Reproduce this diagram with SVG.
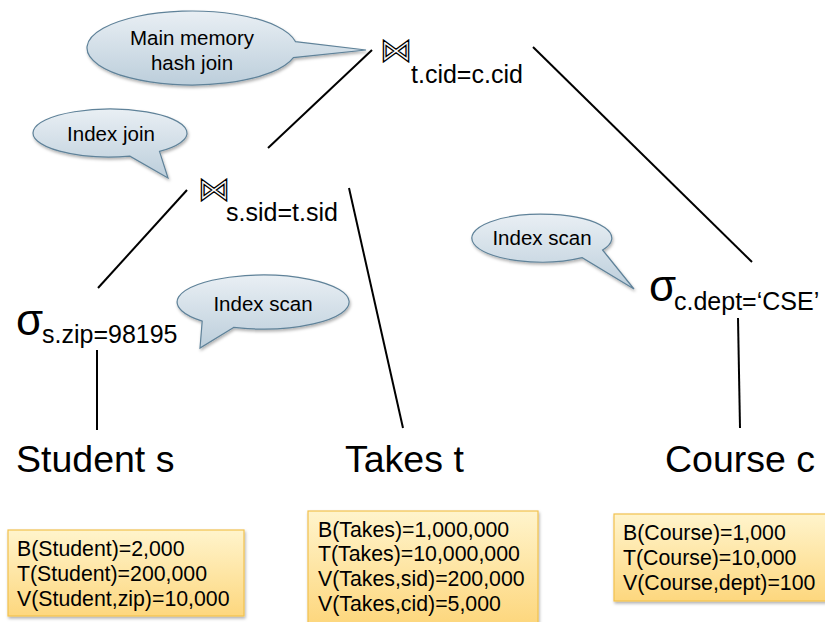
<svg xmlns="http://www.w3.org/2000/svg" width="825" height="622" viewBox="0 0 825 622">
<style>
.t{font-family:"Liberation Sans",Arial,sans-serif;fill:#000}
.call{fill:url(#cg);stroke:#5f8299;stroke-width:1.2;filter:url(#sh)}
.box{fill:url(#bg);stroke:#f2c14e;stroke-width:1.2;filter:url(#sh)}
.ln{stroke:#000;stroke-width:2;fill:none}
.ct{font-size:20.5px;text-anchor:middle}
.bt{font-size:21.3px}
.sub{font-size:25px}
.big{font-size:37.5px}
.sig{font-size:44px}
.bow{font-family:"DejaVu Sans",sans-serif;font-size:32px;fill:none;stroke:#000;stroke-width:1.3;stroke-linejoin:miter}
</style>
<defs>
<linearGradient id="cg" x1="0" y1="0" x2="0" y2="1">
<stop offset="0" stop-color="#e9eff4"/>
<stop offset="1" stop-color="#bccedb"/>
</linearGradient>
<linearGradient id="bg" x1="0" y1="0" x2="0" y2="1">
<stop offset="0" stop-color="#fff4cc"/>
<stop offset="1" stop-color="#fdd77e"/>
</linearGradient>
<filter id="sh" x="-10%" y="-10%" width="130%" height="140%">
<feDropShadow dx="1" dy="2" stdDeviation="1.5" flood-color="#000" flood-opacity="0.3"/>
</filter>
</defs>
<g id="connectors">
<line class="ln" x1="372" y1="50" x2="268" y2="148"/>
<line class="ln" x1="533" y1="47" x2="752" y2="262"/>
<line class="ln" x1="187" y1="190" x2="98" y2="288"/>
<line class="ln" x1="349" y1="188" x2="403" y2="428"/>
<line class="ln" x1="97" y1="350" x2="97" y2="430"/>
<line class="ln" x1="738" y1="318" x2="740" y2="428"/>
</g>
<g id="callout-hash">
<path class="call" d="M295.4,41.6 L366,50 L293.4,57.6 A105,37 0 1 1 295.4,41.6 Z"/>
<text class="t ct" x="192" y="45">Main memory</text>
<text class="t ct" x="192" y="70">hash join</text>
</g>
<g id="callout-indexjoin">
<path class="call" d="M159.5,151.4 L168,178 L129.9,156.2 A77,24 0 1 1 159.5,151.4 Z"/>
<text class="t ct" x="111" y="141">Index join</text>
</g>
<g id="callout-indexscan1">
<path class="call" d="M233.6,327.4 L200,348 L202.2,321.1 A86,27 0 1 1 233.6,327.4 Z"/>
<text class="t ct" x="263" y="311">Index scan</text>
</g>
<g id="callout-indexscan2">
<path class="call" d="M602.6,250 L634,289 L582.2,257.7 A70,24 0 1 1 602.6,250 Z"/>
<text class="t ct" x="542" y="245">Index scan</text>
</g>
<g id="join-top">
<text class="bow" x="380" y="61">⋈</text>
<text class="t sub" x="411" y="83">t.cid=c.cid</text>
</g>
<g id="join-lower">
<text class="bow" x="198" y="200">⋈</text>
<text class="t sub" x="226" y="221">s.sid=t.sid</text>
</g>
<g id="select-zip">
<text class="t sig" x="16" y="335">σ</text>
<text class="t sub" x="42" y="343">s.zip=98195</text>
</g>
<g id="select-dept">
<text class="t sig" x="649" y="301">σ</text>
<text class="t sub" x="674" y="310">c.dept=‘CSE’</text>
</g>
<g id="student">
<text class="t big" x="16" y="472">Student s</text>
</g>
<g id="takes">
<text class="t big" x="345" y="472">Takes t</text>
</g>
<g id="course">
<text class="t big" x="665" y="472">Course c</text>
</g>
<g id="stats-student">
<rect class="box" x="8" y="530" width="236" height="86"/>
<text class="t bt" x="17" y="556">B(Student)=2,000</text>
<text class="t bt" x="17" y="581">T(Student)=200,000</text>
<text class="t bt" x="17" y="606">V(Student,zip)=10,000</text>
</g>
<g id="stats-takes">
<rect class="box" x="308" y="511" width="230" height="112"/>
<text class="t bt" x="318" y="537">B(Takes)=1,000,000</text>
<text class="t bt" x="318" y="561">T(Takes)=10,000,000</text>
<text class="t bt" x="318" y="586">V(Takes,sid)=200,000</text>
<text class="t bt" x="318" y="611">V(Takes,cid)=5,000</text>
</g>
<g id="stats-course">
<rect class="box" x="614" y="514" width="215" height="87"/>
<text class="t bt" x="623" y="540">B(Course)=1,000</text>
<text class="t bt" x="623" y="565">T(Course)=10,000</text>
<text class="t bt" x="623" y="590">V(Course,dept)=100</text>
</g>
</svg>
